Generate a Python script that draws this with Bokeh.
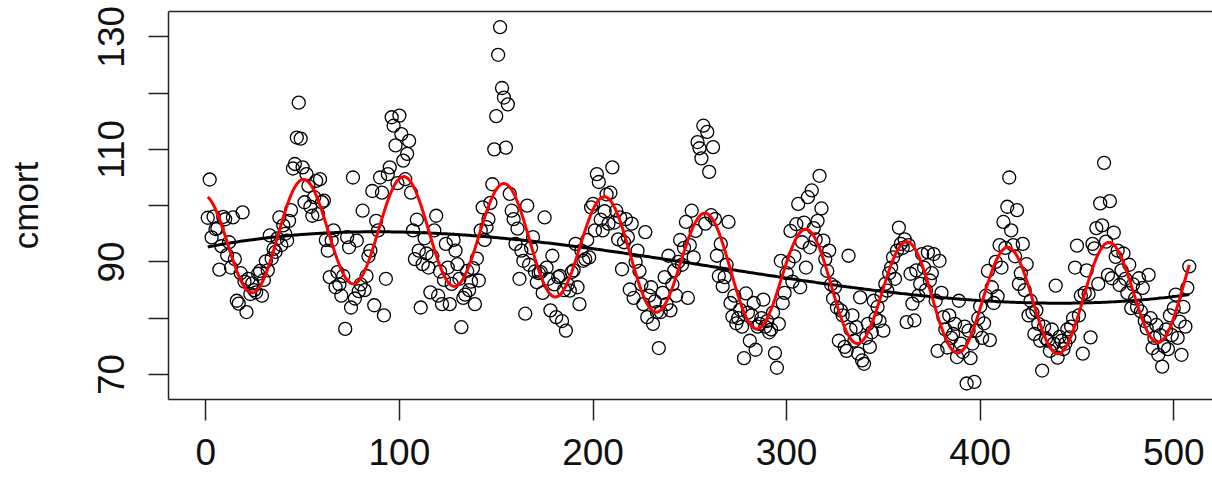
import numpy as np
from bokeh.plotting import figure
from bokeh.models import Range1d, FixedTicker, LinearAxis
from bokeh.embed import file_html
from bokeh.resources import INLINE

# weekly cardiovascular mortality (weeks 1..508)
wk_1 = [97.85, 104.64, 94.36, 98.05, 95.85, 95.98, 88.63, 92.79, 98.00, 97.58,
        91.2, 93.5, 89.0, 97.9, 90.5, 83.1, 82.6, 88.0, 98.8, 86.5,
        81.1, 87.0, 84.3, 86.2, 85.0, 84.6, 87.9, 88.4, 84.0, 86.8,
        90.1, 88.5, 94.7, 90.6, 92.3, 91.8, 94.2, 97.9, 93.0, 96.5,
        95.0, 93.8, 97.3, 99.2, 106.6, 107.4, 112.1, 118.3, 111.9, 106.8,
        100.6, 105.6]
wk_2 = [103.5, 99.8, 98.2, 101.5, 104.4, 98.5, 104.7, 100.6, 100.9, 93.9,
        92.0, 87.3, 93.8, 95.6, 85.5, 88.2, 86.0, 84.0, 87.5, 78.1,
        94.4, 92.6, 81.9, 105.0, 83.5, 93.8, 84.8, 86.0, 99.1, 85.0,
        87.5, 91.0, 92.0, 102.6, 82.3, 97.3, 95.6, 105.0, 102.3, 80.5,
        87.0, 105.6, 106.8, 115.7, 114.2, 110.7, 104.0, 116.0, 112.7, 108.0,
        104.7, 109.2]
wk_3 = [111.5, 102.3, 95.6, 90.5, 97.5, 92.0, 81.9, 89.6, 94.2, 91.5,
        89.0, 84.6, 91.0, 95.6, 98.2, 84.0, 88.3, 82.5, 86.8, 93.2,
        89.0, 82.5, 86.1, 93.9, 92.0, 89.6, 87.0, 78.4, 83.6, 84.2,
        88.4, 85.0, 86.5, 88.9, 82.5, 90.6, 86.7, 95.6, 99.7, 93.9,
        96.2, 97.6, 100.5, 103.8, 110.0, 115.9, 126.8, 131.7, 120.9, 119.2,
        110.3, 118.0]
wk_4 = [102.1, 99.1, 97.6, 93.2, 95.9, 87.0, 92.0, 90.2, 80.8, 100.0,
        89.5, 92.5, 94.4, 88.3, 86.4, 88.0, 88.2, 84.5, 97.9, 89.0,
        87.0, 81.4, 91.1, 86.0, 80.2, 87.3, 87.5, 79.5, 85.0, 77.8,
        86.0, 84.9, 88.2, 88.5, 93.2, 85.5, 82.5, 92.0, 90.2, 90.5,
        93.9, 90.8, 99.7, 100.3, 95.6, 105.6, 104.2, 97.5, 95.6, 99.0,
        102.0, 96.8]
wk_5 = [102.3, 106.8, 97.0, 99.1, 94.0, 97.9, 88.7, 93.5, 97.6, 94.4,
        85.1, 96.8, 83.6, 90.0, 92.0, 88.4, 86.0, 82.5, 95.3, 80.2,
        84.0, 85.5, 79.0, 83.0, 81.1, 74.7, 81.1, 84.5, 87.3, 82.5,
        91.1, 81.4, 86.0, 88.5, 84.0, 90.0, 93.9, 89.5, 92.5, 97.1,
        83.6, 93.0, 99.1, 90.8, 95.5, 111.3, 110.2, 108.4, 114.2, 96.8,
        113.1, 106.0]
wk_6 = [98.3, 110.4, 97.6, 91.1, 87.5, 93.2, 85.7, 87.3, 89.5, 97.1,
        82.7, 80.3, 84.0, 79.1, 80.0, 81.5, 78.5, 72.9, 84.4, 81.0,
        76.0, 80.5, 82.7, 74.4, 78.5, 79.0, 80.0, 83.3, 78.5, 79.5,
        77.5, 78.0, 81.0, 73.8, 71.2, 79.0, 90.2, 82.7, 84.5, 88.0,
        89.9, 95.5, 86.5, 91.0, 96.7, 100.3, 85.5, 93.5, 97.0, 89.0,
        101.5, 92.6]
wk_7 = [102.7, 96.0, 94.0, 97.3, 105.3, 99.5, 93.8, 90.5, 88.4, 92.0,
        86.0, 83.5, 85.5, 81.9, 76.0, 81.4, 80.5, 74.9, 74.2, 91.1,
        78.0, 80.5, 76.0, 78.4, 73.7, 83.7, 72.5, 71.9, 76.5, 79.0,
        74.9, 77.5, 83.1, 80.0, 82.0, 79.5, 84.0, 77.8, 86.1, 84.9,
        88.0, 89.0, 90.8, 87.0, 92.0, 96.1, 93.2, 92.5, 94.0, 79.3,
        93.0, 87.9]
wk_8 = [82.6, 79.6, 88.5, 84.0, 86.1, 91.4, 89.0, 85.0, 91.7, 86.7,
        88.0, 91.4, 83.1, 74.2, 90.2, 84.5, 80.2, 78.0, 74.8, 80.5,
        76.5, 77.2, 79.0, 73.1, 83.1, 75.5, 74.0, 78.5, 68.4, 77.8,
        72.9, 75.5, 68.7, 77.8, 80.0, 82.1, 76.5, 79.1, 84.0, 88.4,
        76.1, 85.5, 82.7, 90.0, 83.9, 93.0, 89.0, 97.1, 92.5, 99.8,
        105.0, 95.6]
wk_9 = [93.0, 91.0, 99.2, 86.1, 88.0, 93.2, 85.0, 89.6, 80.5, 83.1,
        81.0, 77.2, 81.4, 79.0, 76.0, 70.7, 78.5, 76.4, 76.0, 74.2,
        78.0, 75.5, 85.8, 73.0, 76.7, 76.0, 74.5, 75.5, 78.0, 76.6,
        78.5, 80.0, 89.0, 92.9, 80.5, 84.0, 73.7, 84.5, 88.5, 84.3,
        76.6, 93.2, 92.4, 96.0, 86.1, 100.4, 96.5, 107.6, 93.6, 87.7,
        100.8, 87.1]
wk_10 = [95.2, 90.9, 92.0, 85.9, 88.5, 91.5, 87.0, 84.5, 89.5, 81.8,
         86.0, 83.5, 82.0, 87.1, 81.2, 85.4, 79.5, 78.2, 87.7, 80.0,
         74.7, 76.5, 78.8, 73.5, 77.0, 71.4, 75.0, 78.0, 74.5, 80.5,
         77.0, 81.8, 84.2, 76.5, 79.4, 73.5, 82.0, 78.5, 85.4, 89.2]

x_ticks = [0, 100, 200, 300, 400, 500]
y_ticks = [70, 80, 90, 100, 110, 120, 130]
y_labels = {70: "70", 80: "", 90: "90", 100: "", 110: "110", 120: "", 130: "130"}
period = 52

cmort = np.array(wk_1 + wk_2 + wk_3 + wk_4 + wk_5 + wk_6 + wk_7 + wk_8 + wk_9 + wk_10, dtype=float)
t = np.arange(1, len(cmort) + 1, dtype=float)

# trend: cubic regression; seasonal fit: cubic trend + annual harmonic
tt = (t - t.mean()) / (t.max() - t.min())
X_trend = np.column_stack([np.ones_like(tt), tt, tt ** 2, tt ** 3])
b_trend, *_ = np.linalg.lstsq(X_trend, cmort, rcond=None)
trend = X_trend @ b_trend
ph = 2 * np.pi * t / period
X_full = np.column_stack([X_trend, np.cos(ph), np.sin(ph)])
b_full, *_ = np.linalg.lstsq(X_full, cmort, rcond=None)
seasonal_fit = X_full @ b_full

FONT = "Liberation Sans"

p = figure(width=1212, height=478,
           x_range=Range1d(-19.28, 520.0), y_range=Range1d(65.56, 134.49),
           output_backend="svg", toolbar_location=None,
           min_border_left=168, min_border_right=0, min_border_top=11, min_border_bottom=79)
p.xgrid.visible = False
p.ygrid.visible = False
p.outline_line_color = None
p.background_fill_color = "white"
p.border_fill_color = "white"

ax = p.xaxis[0]
ax.ticker = FixedTicker(ticks=x_ticks)
ax.major_tick_out = 21
ax.major_tick_in = 0
ax.minor_tick_line_color = None
ax.major_tick_line_width = 1.5
ax.major_tick_line_color = "#222222"
ax.axis_line_width = 1.5
ax.axis_line_color = "#222222"
ax.major_label_text_font = FONT
ax.major_label_text_font_size = "37px"
ax.major_label_text_color = "#111111"
ax.major_label_standoff = 18

ay = p.yaxis[0]
ay.ticker = FixedTicker(ticks=y_ticks)
ay.major_label_overrides = y_labels
ay.major_tick_out = 20
ay.major_tick_in = 0
ay.minor_tick_line_color = None
ay.major_tick_line_width = 1.5
ay.major_tick_line_color = "#222222"
ay.axis_line_width = 1.5
ay.axis_line_color = "#222222"
ay.major_label_text_font = FONT
ay.major_label_text_font_size = "37px"
ay.major_label_text_color = "#111111"
ay.major_label_orientation = "vertical"
ay.major_label_standoff = 24
ay.axis_label = "cmort"
ay.axis_label_text_font = FONT
ay.axis_label_text_font_size = "35px"
ay.axis_label_text_font_style = "normal"
ay.axis_label_text_color = "#111111"
ay.axis_label_standoff = 51

top = LinearAxis(ticker=FixedTicker(ticks=[]), major_tick_out=0, major_tick_in=0,
                 major_label_standoff=0, major_label_text_font_size="0px",
                 minor_tick_line_color=None, axis_line_width=1.5, axis_line_color="#222222")
p.add_layout(top, "above")

p.scatter(t, cmort, marker="circle", size=13, fill_color=None,
          line_color="black", line_width=1.3)
p.line(t, trend, line_color="black", line_width=3)
p.line(t, seasonal_fit, line_color="#ff0000", line_width=3)

open("out.html", "w").write(file_html(p, INLINE))
